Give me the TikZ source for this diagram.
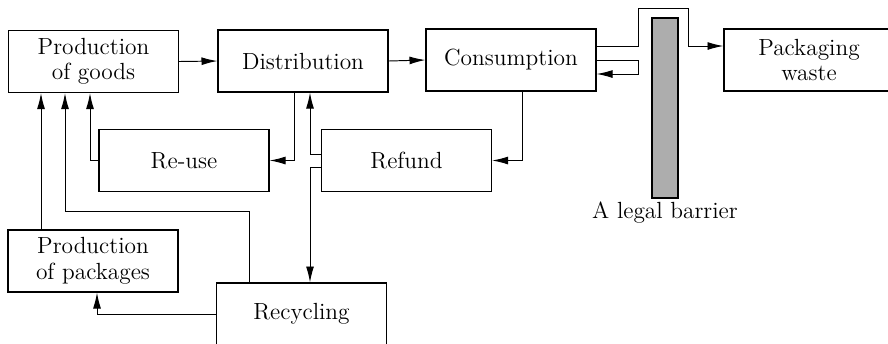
\documentclass[tikz,border=0pt]{standalone}
\usepackage{tikz}
\usetikzlibrary{arrows.meta, positioning}

\tikzset{
  stage/.style={draw, line width=0.8pt, minimum width=3.4cm, minimum height=1.24cm,
    inner sep=0pt, align=center, font=\fontsize{13.3}{14.5}\selectfont},
  flow/.style={->, line width=0.55pt},
  wall/.style={draw, line width=0.9pt, fill=black!32, minimum width=0.52cm,
    minimum height=3.6cm, inner sep=0pt}
}

\begin{document}
\begin{tikzpicture}[x=0.02cm, y=-0.02cm, >={Latex[length=9pt,width=4.5pt]}]
        \useasboundingbox (0,0) rectangle (888,343);

        % --- Top row ---
        \node[stage] (goods) at (93.5,61.5) {Production\\of goods};
        \node[stage] (dist) at (303,61) {Distribution};
        \node[stage] (cons) at (511,60) {Consumption};
        \node[stage] (waste) at (809,60) {Packaging\\waste};

        % --- Middle row ---
        \node[stage] (reuse) at (184,160.5) {Re-use};
        \node[stage] (refund) at (406.5,160.5) {Refund};

        % --- Bottom row ---
        \node[stage] (packages) at (93,261) {Production\\of packages};
        \node[stage] (recycling) at (301.5,314) {Recycling};

        % --- Legal barrier ---
        \node[wall] (barrier) at (665,108) {};
        \node[font=\fontsize{13.3}{14.5}\selectfont] (barrierlabel) at (665,213) {A legal barrier};

        % --- Main chain ---
        \draw[flow] (goods.east) -- (dist.west);
        \draw[flow] (dist.east) -- (cons.west);
        \draw[flow] (cons.east |- 0,46) -| (638,8) -| (688,46) -- (waste.west |- 0,46);
        \draw[flow] (cons.east |- 0,60) -| (638,74) -- (cons.east |- 0,74);

        % --- Return flows ---
        \draw[flow] (cons.south -| 522,0) |- (refund.east);
        \draw[flow] (dist.south -| 294,0) |- (reuse.east);
        \draw[flow] (reuse.west) -| (goods.south -| 90,0);
        \draw[flow] (refund.west |- 0,154) -| (dist.south -| 310,0);
        \draw[flow] (refund.west |- 0,167) -| (recycling.north -| 310,0);

        % --- Packages and recycling ---
        \draw[flow] (packages.north -| 41,0) -- (goods.south -| 41,0);
        \draw[flow] (recycling.north -| 249,0) |- (65,211) -- (goods.south -| 65,0);
        \draw[flow] (recycling.west) -| (packages.south -| 97,0);
    \end{tikzpicture}
\end{document}
